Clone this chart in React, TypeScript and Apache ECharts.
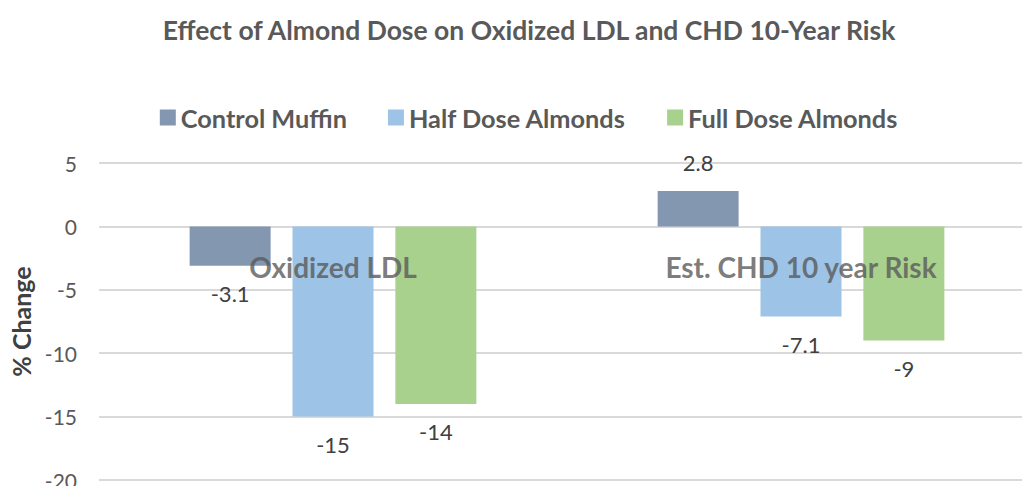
import React, { useEffect, useRef } from "react";
import * as echarts from "echarts";

const categories = ["Oxidized LDL", "Est. CHD 10 year Risk"];
const seriesNames = ["Control Muffin", "Half Dose Almonds", "Full Dose Almonds"];
const controlMuffin = [-3.1, 2.8];
const halfDose = [-15, -7.1];
const fullDose = [-14, -9];
const colors = ["#8497b0", "#9dc3e6", "#a9d18e"];

const FONT = "Lato, 'Open Sans', sans-serif";

export default function App() {
  const ref = useRef<HTMLDivElement>(null);
  useEffect(() => {
    if (!ref.current) return;
    const chart = echarts.init(ref.current, undefined, { renderer: "svg" });
    const mk = (vals: number[]) =>
      vals.map((v) => ({ value: v, label: { position: v >= 0 ? "top" : "bottom" } }));
    const all = [controlMuffin, halfDose, fullDose];
    chart.setOption({
      animation: false,
      textStyle: { fontFamily: FONT },
      title: {
        text: "Effect of Almond Dose on Oxidized LDL and CHD 10-Year Risk",
        left: "center",
        top: 11,
        textStyle: { fontFamily: FONT, fontSize: 26.5, fontWeight: "bold", color: "#595959" },
      },
      legend: {
        data: seriesNames,
        left: "center",
        top: 100,
        icon: "rect",
        itemWidth: 16,
        itemHeight: 16,
        itemGap: 41,
        textStyle: { fontFamily: FONT, fontSize: 25.3, fontWeight: "bold", color: "#595959" },
      },
      grid: { left: 99, right: 23, top: 163, bottom: 6, containLabel: false, outerBoundsMode: "none" },
      xAxis: {
        type: "category",
        data: categories,
        axisLine: { show: false },
        axisTick: { show: false },
        axisLabel: { show: false },
      },
      yAxis: {
        type: "value",
        min: -20,
        max: 5,
        interval: 5,
        name: "% Change",
        nameLocation: "middle",
        nameGap: 66,
        nameTextStyle: { fontFamily: FONT, fontSize: 25, fontWeight: "bold", color: "#404040" },
        axisLine: { show: false },
        axisTick: { show: false },
        splitLine: { lineStyle: { color: "#d9d9d9", width: 2 } },
        axisLabel: { margin: 22, fontFamily: FONT, fontSize: 21, color: "#595959" },
      },
      series: [
        ...all.map((vals, i) => ({
          name: seriesNames[i],
          type: "bar",
          data: mk(vals),
          barWidth: 81,
          barGap: "27%",
          itemStyle: { color: colors[i] },
          label: {
            show: true,
            distance: 17,
            fontFamily: FONT,
            fontSize: 22,
            color: "#404040",
          },
        })),
        {
          name: "categoryLabels",
          type: "scatter",
          data: categories.map((c) => [c, 0]),
          symbolSize: 0,
          z: 10,
          silent: true,
          label: {
            show: true,
            position: "bottom",
            distance: 27,
            formatter: (p: any) => p.name || p.value[0],
            fontFamily: FONT,
            fontSize: 28,
            fontWeight: "bold",
            color: "#595959",
          },
        },
      ],
    });
    return () => chart.dispose();
  }, []);
  return (
    <div style={{ position: "absolute", left: 0, top: 0, width: 1022, height: 486, overflow: "hidden", background: "#fff" }}>
      <div ref={ref} style={{ width: 1058, height: 486 }} />
    </div>
  );
}
